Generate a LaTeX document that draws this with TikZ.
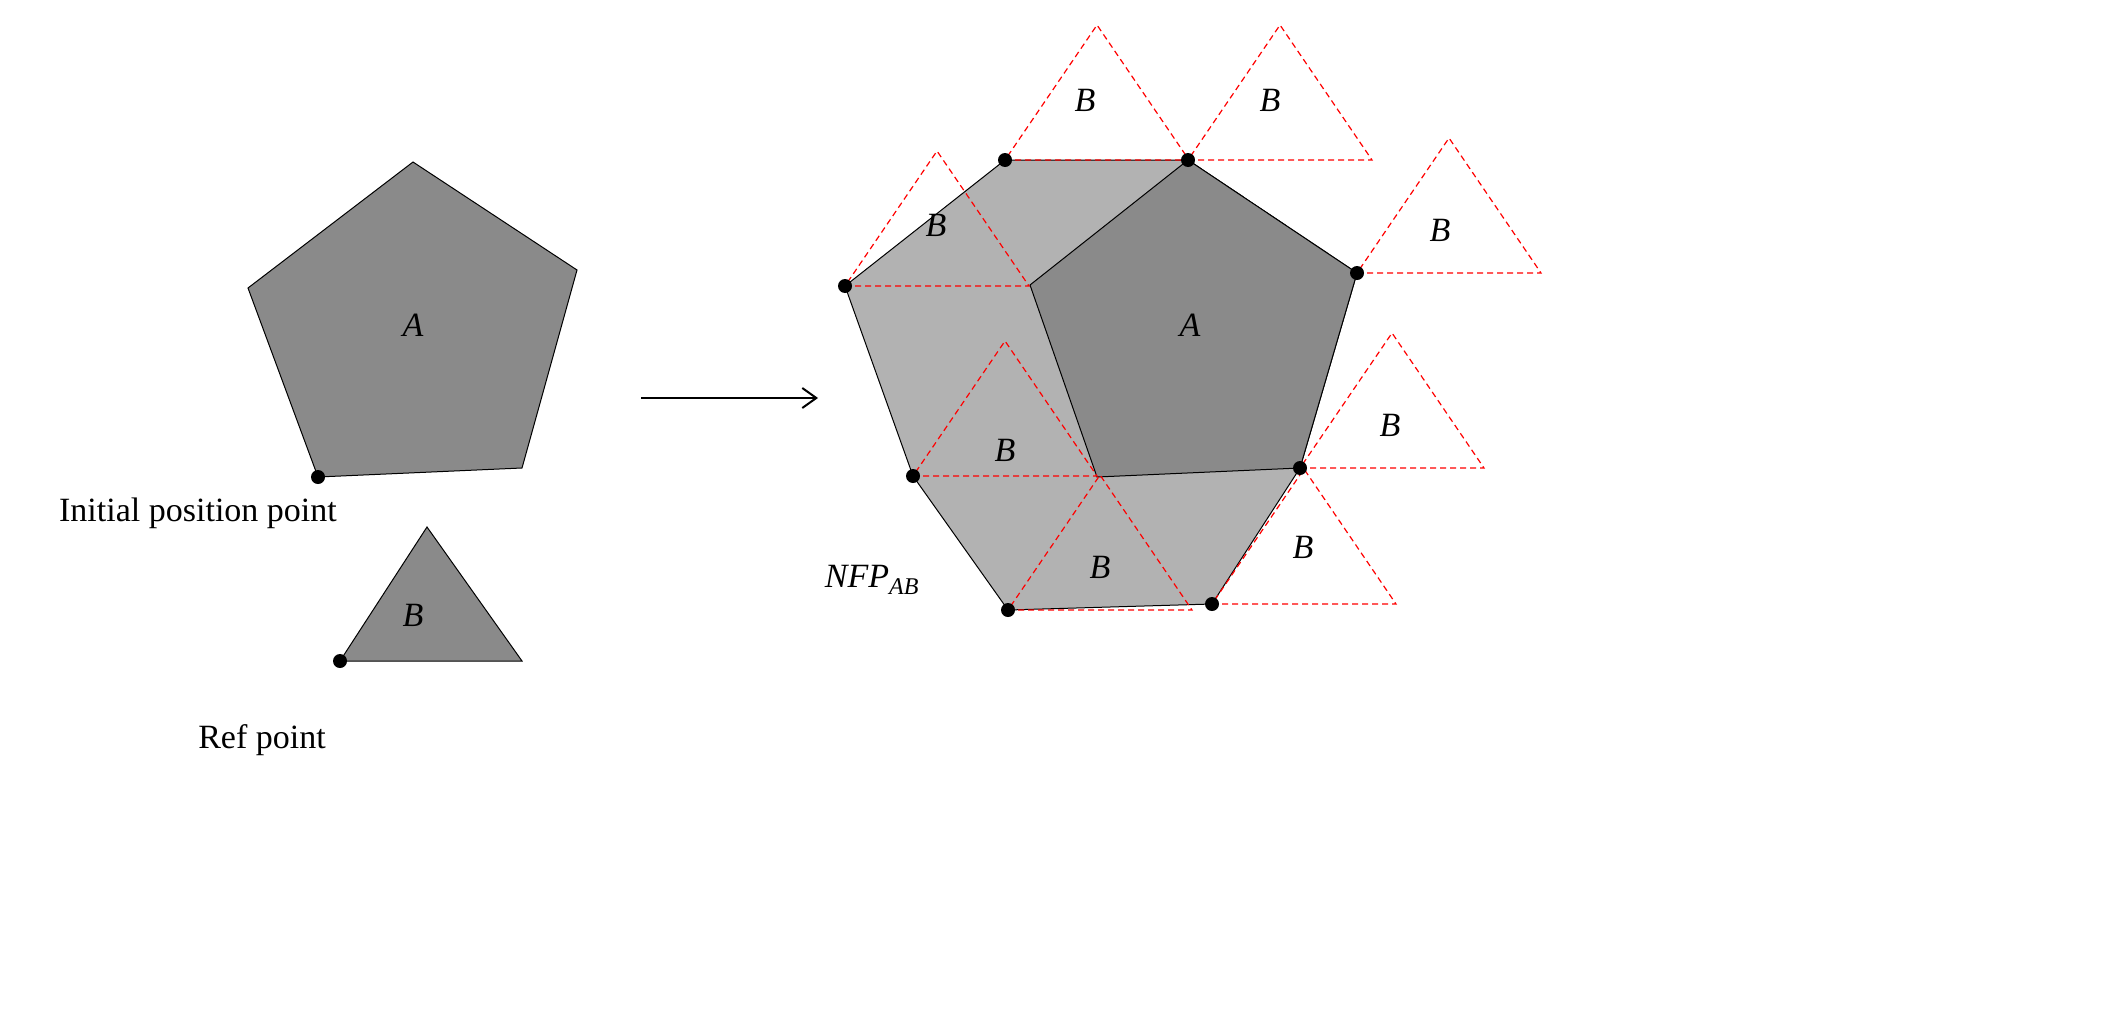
\documentclass[tikz,border=0pt]{standalone}
\usepackage{fontspec}
\usetikzlibrary{arrows.meta}
\setmainfont{Liberation Serif}
\begin{document}
\begin{tikzpicture}[x=1pt,y=-1pt,
  dk/.style={fill=black!46,draw=black,line width=1pt},
  lt/.style={fill=black!30,draw=black,line width=1pt},
  rt/.style={draw=red,dash pattern=on 6pt off 4pt,line width=1.2pt},
  dot/.style={circle,fill=black,inner sep=0pt,minimum size=14pt},
  lab/.style={font=\fontsize{34}{40}\selectfont\itshape},
  txt/.style={font=\fontsize{34}{40}\selectfont}]
\useasboundingbox (0,0) rectangle (2106,1009);
% left
\draw[dk] (413,162)--(577,270)--(522,468)--(318,477)--(248,288)--cycle;
\node[lab] (la) at (413,325) {A};
\node[dot] (ip) at (318,477) {};
\node[txt] (ipt) at (198,513) {Initial position point};
\draw[dk] (427,527)--(522,661)--(340,661)--cycle;
\node[lab] (lb) at (413,615) {B};
\node[dot] (rp) at (340,661) {};
\node[txt] (rpt) at (262,740) {Ref point};
\coordinate (a1) at (641,398); \coordinate (a2) at (818,398);
\draw[-{Straight Barb[length=14pt,width=20pt,line width=2pt]},line width=2pt] (a1)--(a2);
% right
\draw[lt] (1005,160)--(1188,160)--(1357,273)--(1300,468)--(1212,604)--(1008,610)--(913,476)--(845,286)--cycle;
\draw[dk] (1188,160)--(1357,273)--(1300,468)--(1097,477)--(1030,285)--cycle;
\node[lab] (ra) at (1190,325) {A};
\foreach \x/\y/\bx/\by in {1005/160/1085/100, 1188/160/1270/100, 845/286/936/225, 1357/273/1440/230, 913/476/1005/450, 1300/468/1390/425, 1008/610/1100/567, 1212/604/1303/547}{
  \draw[rt] (\x,\y)--++(184,0)--++(-92,-135)--cycle;
  \node[lab] at (\bx,\by) {B};
}
\foreach \x/\y in {1005/160,1188/160,1357/273,1300/468,1212/604,1008/610,913/476,845/286}
  \node[dot] at (\x,\y) {};
\node[lab] (nfp) at (872,580) {NFP\textsubscript{\fontsize{24}{28}\selectfont AB}};
\end{tikzpicture}
\end{document}
